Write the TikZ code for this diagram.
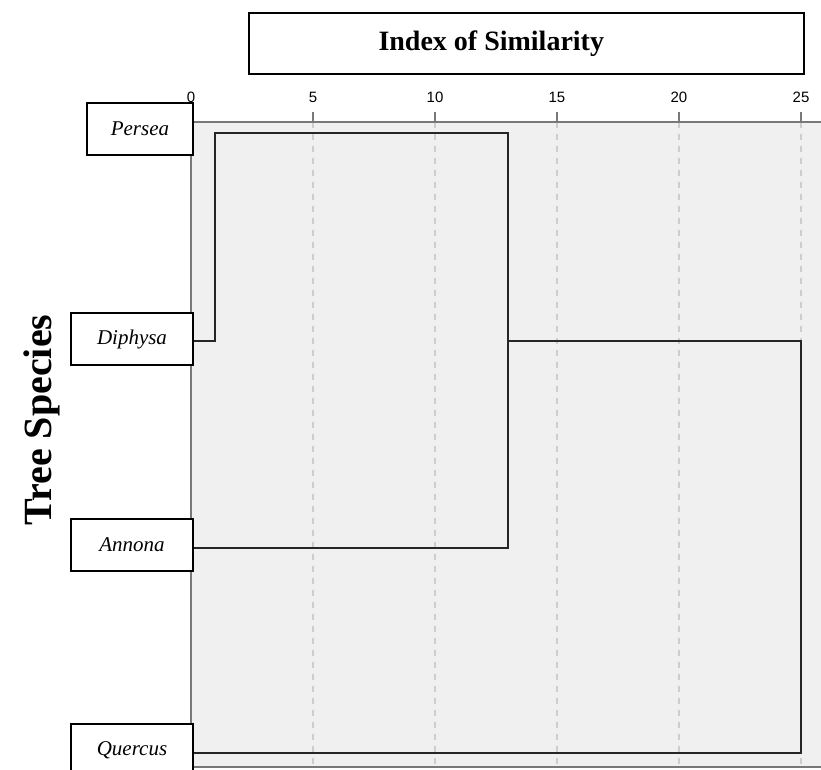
\documentclass[tikz,border=0pt]{standalone}
\usepackage{fontspec}
\setmainfont{Liberation Serif}
\newfontfamily\tickfont{Liberation Sans}
\usetikzlibrary{positioning}
\definecolor{plotbg}{RGB}{240,240,240}
\definecolor{axisgray}{RGB}{120,120,120}
\definecolor{gridgray}{RGB}{205,205,205}

\begin{document}
\begin{tikzpicture}[
    x=0.5pt, y=-0.5pt,
    species/.style={rectangle, draw, line width=1pt, fill=white, anchor=north west, inner sep=0pt, minimum height=26pt, minimum width=61pt, font=\fontsize{10.5}{12}\selectfont\itshape},
    titlebox/.style={rectangle, draw, line width=0.8pt, anchor=north west, minimum width=277.5pt, minimum height=30.5pt, font=\fontsize{14}{16}\selectfont\bfseries},
    link/.style={line width=1.3pt, black!85},
    grid/.style={gridgray, dashed, dash pattern=on 3pt off 3pt, line width=0.6pt},
    axis/.style={axisgray, line width=1pt}
]
    \clip (0,0) rectangle (821,770);

    % plot area
    \fill[plotbg] (191,122) rectangle (821,767);
    \foreach \v in {5,10,...,25}
        \draw[grid] (191+24.4*\v,122) -- (191+24.4*\v,767);
    \draw[axis] (191,122) -- (821,122);
    \draw[axisgray, line width=0.8pt] (191,122) -- (191,767);
    \draw[axis] (191,767) -- (821,767);

    % scale
    \foreach \v in {0,5,...,25} {
        \draw[axis] (191+24.4*\v,112) -- (191+24.4*\v,122);
        \node[font=\tickfont\fontsize{7.5}{9}\selectfont] (tick\v) at (191+24.4*\v,97) {\v};
    }

    % leaves and merges
    \coordinate (pe) at (215,133);
    \coordinate (di0) at (191,341);
    \coordinate (di) at (215,341);
    \coordinate (m1) at (508,133);
    \coordinate (an1) at (508,548);
    \coordinate (an0) at (191,548);
    \coordinate (m2) at (508,341);
    \coordinate (m3) at (801,341);
    \coordinate (qu1) at (801,753);
    \coordinate (qu0) at (191,753);

    \draw[link] (di0) -- (di) -- (pe) -- (m1) -- (an1) -- (an0);
    \draw[link] (m2) -- (m3) -- (qu1) -- (qu0);

    % labels
    \node[species, minimum width=53pt] (persea) at (86,102) {Persea};
    \node[species] (diphysa) at (70,312) {Diphysa};
    \node[species] (annona) at (70,518) {Annona};
    \node[species] (quercus) at (70,723) {Quercus};

    % title sits left of the box centre
    \node[titlebox] (title) at (248,12) {\hspace*{-35pt}Index of Similarity};
    \node[rotate=90, font=\fontsize{20}{22}\selectfont\bfseries] (yaxis) at (42,420) {Tree Species};
\end{tikzpicture}
\end{document}
